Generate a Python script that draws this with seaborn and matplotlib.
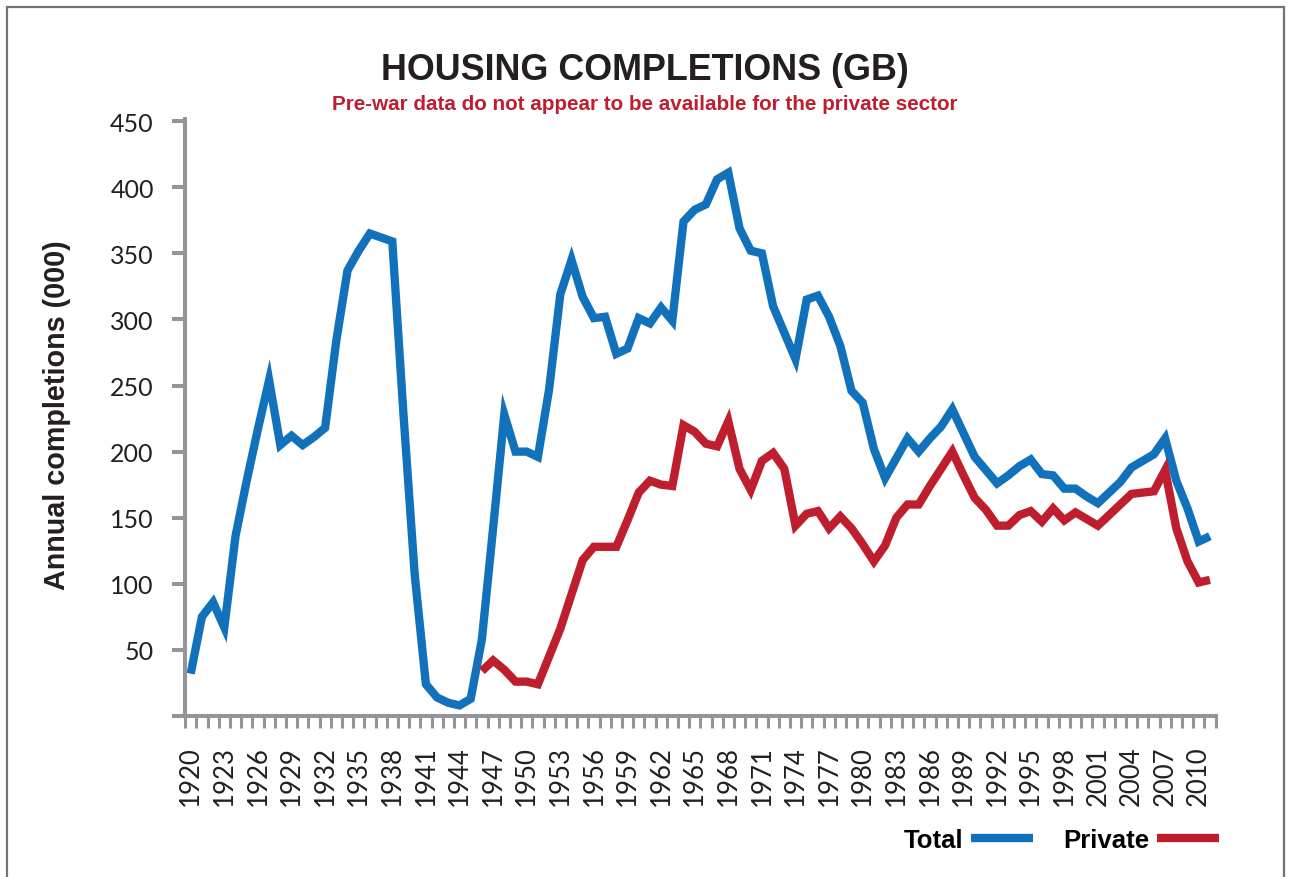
import numpy as np
import pandas as pd
import matplotlib
matplotlib.use("Agg")
import matplotlib.pyplot as plt
from matplotlib.patches import Rectangle
import seaborn as sns

# ---------------- data (thousands of completions, GB) ----------------
years = list(range(1920, 2012))
total = [32, 75, 86, 67, 136, 178, 217, 254, 205, 212,
         205, 211, 218, 284, 337, 352, 365, 362, 359, 228,
         107, 24, 14, 10, 8, 13, 58, 142, 228, 200,
         200, 196, 247, 319, 345, 317, 301, 302, 274, 278,
         301, 297, 309, 299, 374, 383, 387, 406, 411, 369,
         352, 350, 310, 290, 270, 315, 318, 302, 280, 246,
         237, 202, 180, 195, 210, 200, 210, 219, 232, 214,
         196, 186, 176, 182, 189, 194, 183, 182, 172, 172,
         166, 161, 169, 177, 188, 193, 198, 210, 178, 157,
         132, 136]
private = [np.nan] * 26 + [34, 42, 35, 26,
         26, 24, 45, 66, 92, 118, 128, 128, 128, 148,
         169, 178, 175, 174, 220, 215, 206, 204, 223, 187,
         171, 193, 199, 187, 144, 153, 155, 142, 151, 142,
         130, 117, 129, 150, 160, 160, 174, 187, 200, 182,
         165, 156, 144, 144, 152, 155, 147, 157, 148, 154,
         149, 144, 152, 160, 168, 169, 170, 186, 142, 117,
         101, 103]
series_names = ["Total", "Private"]
tick_years = list(range(1920, 2011, 3))
y_ticks = list(range(50, 451, 50))

title = "HOUSING COMPLETIONS (GB)"
subtitle = "Pre-war data do not appear to be available for the private sector"
ylabel = "Annual completions (000)"

BLUE = "#1172bb"
RED = "#be1e2d"
GRAY = "#939598"
DARK = "#231f20"

sns.set_theme(style="white")
plt.rcParams["font.family"] = ["Liberation Sans", "DejaVu Sans"]

W, H = 1289, 878
fig = plt.figure(figsize=(W / 100, H / 100), dpi=100)
fig.patch.set_facecolor("white")

x_left_px, x_right_px = 173.9, 1215.5
y_bot_px, y_top_px = 717, 119.5
ax = fig.add_axes([x_left_px / W, 1 - y_bot_px / H,
                   (x_right_px - x_left_px) / W, (y_bot_px - y_top_px) / H])
ax.set_facecolor("white")

df = pd.DataFrame({
    "Year": years * 2,
    "Completions": total + private,
    "Series": [series_names[0]] * len(years) + [series_names[1]] * len(years),
}).dropna()

sns.lineplot(data=df, x="Year", y="Completions", hue="Series",
             hue_order=series_names, palette={"Total": BLUE, "Private": RED},
             linewidth=6, ax=ax, legend=False, estimator=None, sort=True)
lines = ax.get_lines()
for ln in lines:
    ln.set_solid_joinstyle("miter")
    ln.set_solid_capstyle("butt")

ax.set_xlim(1918.5, 2011.5)
ax.set_ylim(0, 452)
for s in ["top", "right"]:
    ax.spines[s].set_visible(False)
ax.spines["left"].set_position(("data", 1919.5))
for s in ["left", "bottom"]:
    ax.spines[s].set_color(GRAY)
    ax.spines[s].set_linewidth(2.9)

ax.set_xticks(tick_years)
ax.set_xticklabels([str(y) for y in tick_years], rotation=90)
ax.set_xticks(np.arange(1919.5, 2012, 1.0), minor=True)
ax.set_yticks(y_ticks)
ax.set_yticklabels([str(v) for v in y_ticks])

ax.tick_params(axis="x", which="major", bottom=True, length=0, pad=21,
               labelsize=18.5, labelcolor=DARK)
ax.tick_params(axis="x", which="minor", bottom=True, length=8.5, width=2.2,
               color=GRAY, direction="out")
ax.tick_params(axis="y", which="major", left=True, length=9.5, width=2.9,
               color=GRAY, direction="out", pad=13, labelsize=18,
               labelcolor=DARK)
for lbl in ax.get_xticklabels() + ax.get_yticklabels():
    lbl.set_fontfamily(["Lato", "DejaVu Sans"])
    lbl.set_fontweight("normal")
ax.set_xlabel("")
ax.set_ylabel("")
ax.grid(False)

# texts
t_title = fig.text(0.5, 1 - 80 / H, title, ha="center", va="baseline",
                   fontsize=31, fontweight="bold", color=DARK,
                   family=["Liberation Sans Narrow", "Liberation Sans", "DejaVu Sans"])
t_sub = fig.text(0.5, 1 - 110 / H, subtitle, ha="center", va="baseline",
                 fontsize=13, fontweight="bold", color=RED)
t_ylab = fig.text(57 / W, 1 - 415 / H, ylabel, ha="center", va="center",
                  rotation=90, fontsize=20, fontweight="bold", color=DARK)

fig.canvas.draw()
r = fig.canvas.get_renderer()
def fit(t, target, use_height=False):
    bb = t.get_window_extent(r)
    cur = bb.height if use_height else bb.width
    t.set_fontsize(t.get_fontsize() * target / cur)
fit(t_title, 527)
fit(t_sub, 624)
fit(t_ylab, 350, use_height=True)

leg = fig.legend(handles=lines[:2], labels=series_names, loc="center right",
                 bbox_to_anchor=(1232 / W, 1 - 841 / H), ncol=2, frameon=False,
                 markerfirst=False, handlelength=2.4, handletextpad=0.3,
                 columnspacing=1.2, borderpad=0,
                 prop={"weight": "bold", "size": 18.5})
for txt in leg.get_texts():
    txt.set_color("black")

# outer frame
fig.patches.append(Rectangle((7 / W, -0.05), (1284 - 7) / W, 1.05 - 8 / H,
                             transform=fig.transFigure, fill=False,
                             edgecolor="#77736b", linewidth=1.6, clip_on=False))

fig.savefig("out.png", dpi=100, facecolor="white")
